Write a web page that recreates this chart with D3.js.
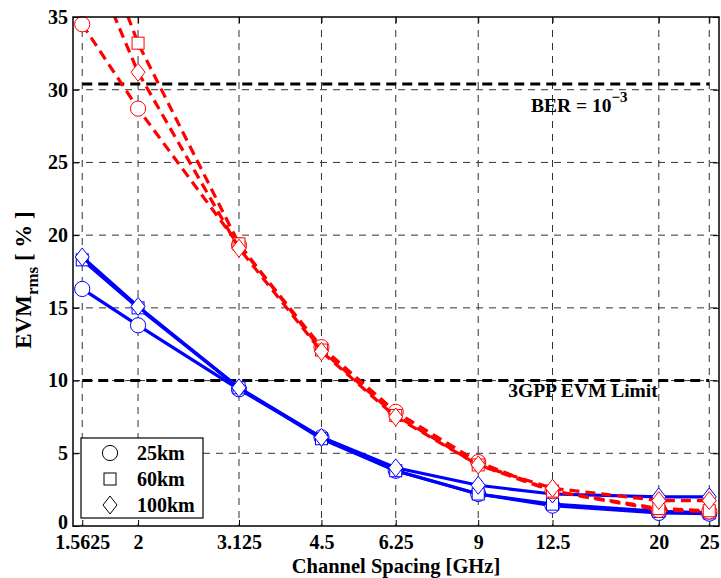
<!DOCTYPE html>
<html>
<head>
<meta charset="utf-8">
<title>EVM vs Channel Spacing</title>
<script src="https://d3js.org/d3.v7.min.js"></script>
<style>
  body { margin: 0; background: #fff; }
  text { font-family: "Liberation Serif", "Times New Roman", serif; font-weight: bold; }
</style>
</head>
<body>
<div id="chart"></div>
<script>
// channel spacing in GHz (x), EVM rms in % (y)
var spacing = [1.5625, 2, 3.125, 4.5, 6.25, 9, 12.5, 20, 25];
var tickLabels = ["1.5625", "2", "3.125", "4.5", "6.25", "9", "12.5", "20", "25"];
var yTicks = [0, 5, 10, 15, 20, 25, 30, 35];

// solid blue curves
var blue25 = [16.3, 13.8, 9.4, 6.1, 3.8, 2.2, 1.4, 0.9, 0.85];
var blue60 = [18.3, 15.0, 9.5, 6.0, 3.8, 2.2, 1.5, 1.0, 0.9];
var blue100 = [18.5, 15.1, 9.5, 6.1, 4.0, 2.8, 2.2, 2.0, 2.0];
// dashed red curves
var red25 = [34.5, 28.7, 19.3, 12.3, 7.85, 4.4, 2.4, 1.1, 1.0];
var red60 = [43.3, 33.2, 19.4, 12.1, 7.6, 4.2, 2.4, 1.2, 1.05];
var red100 = [40.3, 31.2, 19.1, 12.0, 7.5, 4.2, 2.6, 1.75, 1.75];

var berLimit = 30.4;
var gppLimit = 10;

var W = 721, H = 578;
// plot box (note: "top" is reserved on window, so use pTop etc.)
var pLeft = 73, pRight = 719, pTop = 17, pBottom = 526;

var svg = d3.select("#chart").append("svg")
    .attr("width", W)
    .attr("height", H);

var x = d3.scaleLog().domain([1.5, 26.1]).range([pLeft, pRight]);
var y = d3.scaleLinear().domain([0, 35]).range([pBottom, pTop]);

svg.append("clipPath").attr("id", "plotclip")
  .append("rect")
    .attr("x", pLeft).attr("y", pTop)
    .attr("width", pRight - pLeft).attr("height", pBottom - pTop);

// grid
var grid = svg.append("g");
grid.selectAll(".vg").data(spacing).enter().append("line")
    .attr("x1", d => x(d)).attr("x2", d => x(d))
    .attr("y1", pTop).attr("y2", pBottom)
    .attr("stroke", "#333").attr("stroke-width", 1)
    .attr("stroke-dasharray", "7,6");
grid.selectAll(".hg").data(yTicks.filter(d => d > 0 && d < 35)).enter().append("line")
    .attr("x1", pLeft).attr("x2", pRight)
    .attr("y1", d => y(d)).attr("y2", d => y(d))
    .attr("stroke", "#333").attr("stroke-width", 1)
    .attr("stroke-dasharray", "7,6");

// axes (ticks inward)
var xAxis = d3.axisBottom(x).tickValues(spacing)
    .tickFormat((d, i) => tickLabels[i]).tickSizeInner(-6).tickSizeOuter(0).tickPadding(9);
var gx = svg.append("g").attr("transform", "translate(0," + pBottom + ")").call(xAxis);
gx.select(".domain").remove();
gx.selectAll("text").attr("font-size", 20).attr("fill", "#000").attr("font-family", null);

var yAxis = d3.axisLeft(y).tickValues(yTicks).tickSizeInner(-6).tickSizeOuter(0).tickPadding(5);
var gy = svg.append("g").attr("transform", "translate(" + pLeft + ",0)").call(yAxis);
gy.select(".domain").remove();
gy.selectAll("text").attr("font-size", 20).attr("fill", "#000").attr("font-family", null);
// the "0" sits a little higher so it clears the first x label
gy.selectAll("text").filter(d => d === 0).attr("dy", "0.1em");

// ticks on top / right
svg.append("g").attr("transform", "translate(0," + pTop + ")")
    .call(d3.axisTop(x).tickValues(spacing).tickFormat("").tickSizeInner(-6).tickSizeOuter(0))
    .select(".domain").remove();
svg.append("g").attr("transform", "translate(" + pRight + ",0)")
    .call(d3.axisRight(y).tickValues(yTicks).tickFormat("").tickSizeInner(-6).tickSizeOuter(0))
    .select(".domain").remove();

// reference lines
[berLimit, gppLimit].forEach(function(v) {
  svg.append("line")
      .attr("x1", x(spacing[0])).attr("x2", x(spacing[spacing.length - 1]))
      .attr("y1", y(v)).attr("y2", y(v))
      .attr("stroke", "#000").attr("stroke-width", 3)
      .attr("stroke-dasharray", "10,6");
});

svg.append("text")
    .attr("x", 531).attr("y", 112)
    .attr("font-size", 19.5)
    .text("BER = 10")
  .append("tspan")
    .attr("dy", -10).attr("font-size", 15)
    .text("\u22123");

svg.append("text")
    .attr("x", 583).attr("y", 397)
    .attr("text-anchor", "middle")
    .attr("font-size", 19.5)
    .text("3GPP EVM Limit");

// markers
function marker(sel, shape) {
  if (shape === "circle") {
    sel.append("circle").attr("r", 7.6);
  } else if (shape === "square") {
    sel.append("rect").attr("x", -6).attr("y", -6).attr("width", 12).attr("height", 12);
  } else {
    sel.append("path").attr("d", "M0,-9L7,0L0,9L-7,0Z");
  }
}

var line = d3.line().x((d, i) => x(spacing[i])).y(d => y(d));

var series = [
  { values: blue25, color: "#0000ff", dash: null, shape: "circle" },
  { values: blue60, color: "#0000ff", dash: null, shape: "square" },
  { values: blue100, color: "#0000ff", dash: null, shape: "diamond" },
  { values: red25, color: "#ff0000", dash: "10,6", shape: "circle" },
  { values: red60, color: "#ff0000", dash: "10,6", shape: "square" },
  { values: red100, color: "#ff0000", dash: "10,6", shape: "diamond" }
];

series.forEach(function(s) {
  svg.append("path")
      .datum(s.values)
      .attr("clip-path", "url(#plotclip)")
      .attr("d", line)
      .attr("fill", "none")
      .attr("stroke", s.color)
      .attr("stroke-width", 3.2)
      .attr("stroke-dasharray", s.dash);

  svg.append("g").selectAll("g")
      .data(s.values.map((v, i) => [spacing[i], v]).filter(d => d[1] <= 35))
      .enter().append("g")
      .attr("transform", d => "translate(" + x(d[0]) + "," + y(d[1]) + ")")
      .each(function() { marker(d3.select(this), s.shape); })
      .selectAll("*")
      .attr("fill", "#fff")
      .attr("stroke", s.color)
      .attr("stroke-width", 1);
});

// frame
svg.append("rect")
    .attr("x", pLeft).attr("y", pTop)
    .attr("width", pRight - pLeft).attr("height", pBottom - pTop)
    .attr("fill", "none").attr("stroke", "#000").attr("stroke-width", 1.5);

// legend
var lg = svg.append("g").attr("transform", "translate(81,438)");
lg.append("rect").attr("width", 122).attr("height", 80)
    .attr("fill", "#fff").attr("stroke", "#000").attr("stroke-width", 1.2);
var legendItems = [["circle", "25km"], ["square", "60km"], ["diamond", "100km"]];
legendItems.forEach(function(it, i) {
  var row = lg.append("g").attr("transform", "translate(0," + (15 + i * 26) + ")");
  var m = row.append("g").attr("transform", "translate(29,0)");
  marker(m, it[0]);
  m.selectAll("*").attr("fill", "#fff").attr("stroke", "#000").attr("stroke-width", 1);
  row.append("text").attr("x", 56).attr("y", 7).attr("font-size", 20).text(it[1]);
});

// axis titles
svg.append("text")
    .attr("x", 396).attr("y", 573)
    .attr("text-anchor", "middle")
    .attr("font-size", 20.5)
    .text("Channel Spacing [GHz]");

var yl = svg.append("text")
    .attr("transform", "translate(31,280) rotate(-90)")
    .attr("text-anchor", "middle")
    .attr("font-size", 23);
yl.append("tspan").text("EVM");
yl.append("tspan").attr("dy", 7).attr("font-size", 17).text("rms");
yl.append("tspan").attr("dy", -7).text(" [ % ]");
</script>
</body>
</html>
